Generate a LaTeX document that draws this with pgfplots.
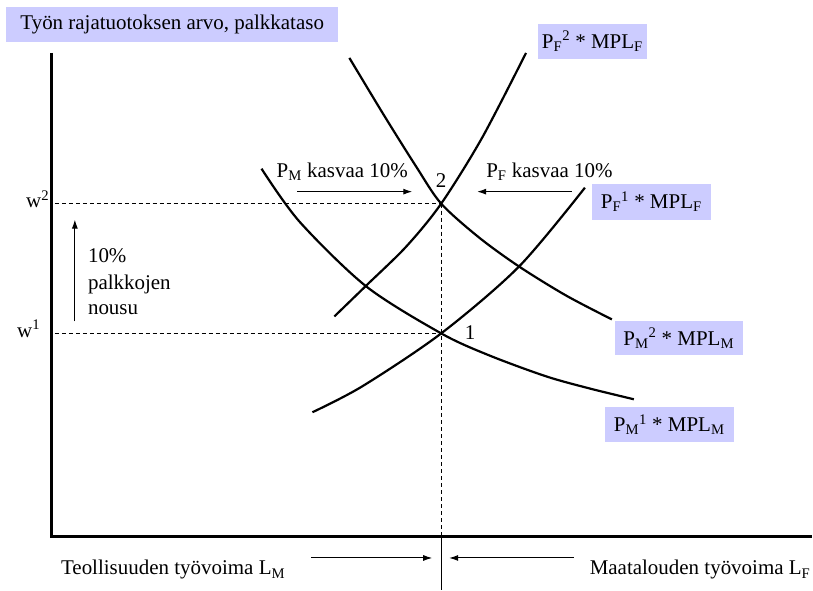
\documentclass[border=0pt]{standalone}
\usepackage{fontspec}
\setmainfont{Liberation Serif}
\usepackage{pgfplots}
\pgfplotsset{compat=1.18}
\usetikzlibrary{arrows.meta}
\definecolor{lav}{RGB}{204,204,255}
\newcommand{\fs}{\fontsize{21bp}{25bp}\selectfont}
\begin{document}
\begin{tikzpicture}[lbl/.style={font=\fs, inner sep=0pt}]
\begin{axis}[
  scale only axis, width=813bp, height=591bp,
  xmin=0, xmax=813, ymin=0, ymax=591, y dir=reverse,
  hide axis, clip=false,
]
\path (axis cs:0,0) rectangle (axis cs:813,591);
% frame
\draw[line width=3bp] (axis cs:52,53) -- (axis cs:52,537) -- (axis cs:813,537);
% guide lines
\addplot[black, line width=0.9bp, dash pattern=on 4bp off 3bp] coordinates {(55,204) (442,204)};
\addplot[black, line width=0.9bp, dash pattern=on 4bp off 3bp] coordinates {(55,334) (442,334)};
\addplot[black, line width=0.9bp, dash pattern=on 4bp off 3bp] coordinates {(442,204) (442,537)};
\addplot[black, line width=1bp] coordinates {(442,537) (442,591)};
% curves
% P_M^2 * MPL_M
\addplot[black, line width=2.2bp, smooth] coordinates {(350,58) (385,116) (417,167) (442,204) (480,238) (520,267) (567,296) (613,320)};
% P_F^2 * MPL_F
\addplot[black, line width=2.2bp, smooth] coordinates {(335,317) (367,286) (407,247) (442,204) (483,138) (527,53)};
% P_M^1 * MPL_M
\addplot[black, line width=2.2bp, smooth] coordinates {(262,169) (300,222) (367,287) (442,334) (490,356) (547,377) (590,389) (635,400)};
% P_F^1 * MPL_F
\addplot[black, line width=2.2bp, smooth] coordinates {(313,413) (363,387) (442,334) (520,267) (586,188)};
% arrows
\draw[line width=1bp, -{Latex[length=9bp,width=6bp]}] (axis cs:312,559) -- (axis cs:433,559);
\draw[line width=1bp, -{Latex[length=9bp,width=6bp]}] (axis cs:575,559) -- (axis cs:450,559);
\draw[line width=1bp, -{Latex[length=9bp,width=6bp]}] (axis cs:75,322) -- (axis cs:75,220);
\draw[line width=1bp, -{Latex[length=9bp,width=6bp]}] (axis cs:298,192) -- (axis cs:413,192);
\draw[line width=1bp, -{Latex[length=9bp,width=6bp]}] (axis cs:573,192) -- (axis cs:478,192);
% boxed labels
\node[lbl, fill=lav, minimum width=333bp, minimum height=35bp] at (axis cs:172.5,24.5) {Työn rajatuotoksen arvo, palkkataso};
\node[lbl, fill=lav, minimum width=109bp, minimum height=35bp] at (axis cs:593.5,41.5) {P\textsubscript{F}\textsuperscript{2} * MPL\textsubscript{F}};
\node[lbl, fill=lav, minimum width=119bp, minimum height=36bp] at (axis cs:652.5,202) {P\textsubscript{F}\textsuperscript{1} * MPL\textsubscript{F}};
\node[lbl, fill=lav, minimum width=128bp, minimum height=34bp] at (axis cs:680,339) {P\textsubscript{M}\textsuperscript{2} * MPL\textsubscript{M}};
\node[lbl, fill=lav, minimum width=129bp, minimum height=35bp] at (axis cs:670.5,425.5) {P\textsubscript{M}\textsuperscript{1} * MPL\textsubscript{M}};
% text labels
\node[lbl, anchor=base west] at (axis cs:277,178) {P\textsubscript{M} kasvaa 10\%};
\node[lbl, anchor=base west] at (axis cs:487,178) {P\textsubscript{F} kasvaa 10\%};
\node[lbl, anchor=base] at (axis cs:442,188) {2};
\node[lbl, anchor=base] at (axis cs:471,340) {1};
\node[lbl, anchor=base west] at (axis cs:26,208) {w\textsuperscript{2}};
\node[lbl, anchor=base west] at (axis cs:17,338) {w\textsuperscript{1}};
\node[lbl, anchor=base west] at (axis cs:88,263) {10\%};
\node[lbl, anchor=base west] at (axis cs:88,290) {palkkojen};
\node[lbl, anchor=base west] at (axis cs:88,315) {nousu};
\node[lbl, anchor=base west] at (axis cs:61,576) {Teollisuuden työvoima L\textsubscript{M}};
\node[lbl, anchor=base east] at (axis cs:812,576) {Maatalouden työvoima L\textsubscript{F}};
\end{axis}
\end{tikzpicture}
\end{document}
